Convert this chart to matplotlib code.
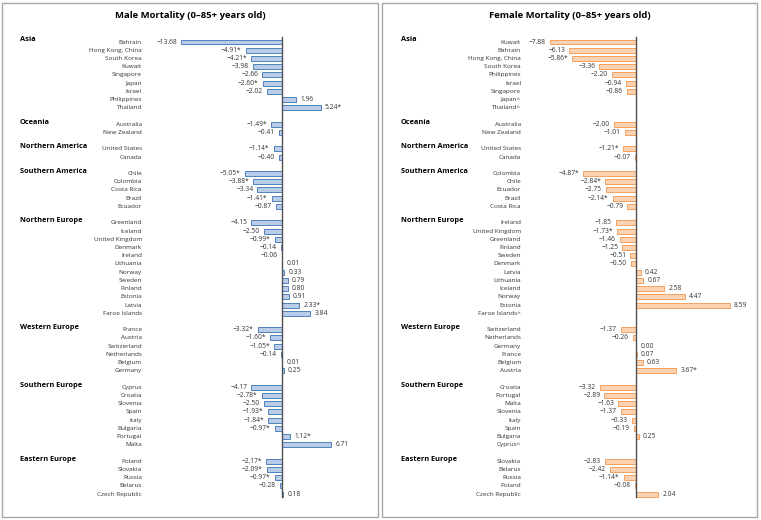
import matplotlib
matplotlib.use('Agg')
import matplotlib.pyplot as plt
from matplotlib.patches import Rectangle
from matplotlib.transforms import blended_transform_factory

plt.rcParams['font.family'] = ['Open Sans', 'DejaVu Sans']

regions = ['Asia', 'Oceania', 'Northern America', 'Southern America',
           'Northern Europe', 'Western Europe', 'Southern Europe', 'Eastern Europe']

# male panel
male_countries = [
    ['Bahrain', 'Hong Kong, China', 'South Korea', 'Kuwait', 'Singapore', 'Japan', 'Israel', 'Philippines', 'Thailand'],
    ['Australia', 'New Zealand'],
    ['United States', 'Canada'],
    ['Chile', 'Colombia', 'Costa Rica', 'Brazil', 'Ecuador'],
    ['Greenland', 'Iceland', 'United Kingdom', 'Denmark', 'Ireland', 'Lithuania', 'Norway', 'Sweden',
     'Finland', 'Estonia', 'Latvia', 'Faroe Islands'],
    ['France', 'Austria', 'Switzerland', 'Netherlands', 'Belgium', 'Germany'],
    ['Cyprus', 'Croatia', 'Slovenia', 'Spain', 'Italy', 'Bulgaria', 'Portugal', 'Malta'],
    ['Poland', 'Slovakia', 'Russia', 'Belarus', 'Czech Republic'],
]
male_values = [
    [-13.68, -4.91, -4.21, -3.98, -2.66, -2.60, -2.02, 1.96, 5.24],
    [-1.49, -0.41],
    [-1.14, -0.40],
    [-5.05, -3.88, -3.34, -1.41, -0.87],
    [-4.15, -2.50, -0.99, -0.14, -0.06, 0.01, 0.33, 0.79, 0.80, 0.91, 2.33, 3.84],
    [-3.32, -1.60, -1.05, -0.14, 0.01, 0.25],
    [-4.17, -2.78, -2.50, -1.93, -1.84, -0.97, 1.12, 6.71],
    [-2.17, -2.09, -0.97, -0.28, 0.18],
]
male_starred = ['Hong Kong, China', 'South Korea', 'Japan', 'Thailand', 'Australia', 'United States',
                'Chile', 'Colombia', 'Brazil', 'United Kingdom', 'Latvia', 'France', 'Austria',
                'Switzerland', 'Croatia', 'Spain', 'Italy', 'Bulgaria', 'Portugal', 'Poland',
                'Slovakia', 'Russia']

# female panel (None = no data, shown with ^)
female_countries = [
    ['Kuwait', 'Bahrain', 'Hong Kong, China', 'South Korea', 'Philippines', 'Israel', 'Singapore', 'Japan', 'Thailand'],
    ['Australia', 'New Zealand'],
    ['United States', 'Canada'],
    ['Colombia', 'Chile', 'Ecuador', 'Brazil', 'Costa Rica'],
    ['Ireland', 'United Kingdom', 'Greenland', 'Finland', 'Sweden', 'Denmark', 'Latvia', 'Lithuania',
     'Iceland', 'Norway', 'Estonia', 'Faroe Islands'],
    ['Switzerland', 'Netherlands', 'Germany', 'France', 'Belgium', 'Austria'],
    ['Croatia', 'Portugal', 'Malta', 'Slovenia', 'Italy', 'Spain', 'Bulgaria', 'Cyprus'],
    ['Slovakia', 'Belarus', 'Russia', 'Poland', 'Czech Republic'],
]
female_values = [
    [-7.88, -6.13, -5.86, -3.36, -2.20, -0.94, -0.86, None, None],
    [-2.00, -1.01],
    [-1.21, -0.07],
    [-4.87, -2.84, -2.75, -2.14, -0.79],
    [-1.85, -1.73, -1.46, -1.25, -0.51, -0.50, 0.42, 0.67, 2.58, 4.47, 8.59, None],
    [-1.37, -0.26, 0.00, 0.07, 0.63, 3.67],
    [-3.32, -2.89, -1.63, -1.37, -0.33, -0.19, 0.25, None],
    [-2.83, -2.42, -1.14, -0.08, 2.04],
]
female_starred = ['Hong Kong, China', 'United States', 'Colombia', 'Chile', 'Brazil',
                  'United Kingdom', 'Austria', 'Russia']

W, H = 761, 520
fig = plt.figure(figsize=(W / 100, H / 100), dpi=100)


def fbox(x0, y0, x1, y1):
    # pixel box (top-left origin) -> figure fraction rect
    return [x0 / W, 1 - y1 / H, (x1 - x0) / W, (y1 - y0) / H]


def draw_panel(title, countries, values, starred, panel_px, ax_px, zero_px, scale, region_x,
               fill, edge):
    px0, px1 = panel_px
    fig.patches.append(Rectangle((px0 / W, 3 / H), (px1 - px0) / W, 514 / H,
                                 transform=fig.transFigure, fill=False,
                                 edgecolor='#a6a6a6', lw=1))
    fig.text((px0 + px1) / 2 / W, 1 - 15 / H, title, ha='center', va='center',
             fontsize=6.8, fontweight='bold')

    ax0, ax1 = ax_px
    row0, step = 42, 8.22
    ax = fig.add_axes(fbox(ax0, 34, ax1, 502))
    ax.set_xlim((ax0 - zero_px) / scale, (ax1 - zero_px) / scale)
    ax.set_ylim((502 - row0) / step, (34 - row0) / step)
    ax.axis('off')

    ypos, labels, vals = [], [], []
    region_rows = []
    row = 0
    for names, v in zip(countries, values):
        region_rows.append(row)
        for n, val in zip(names, v):
            ypos.append(row)
            labels.append(n + ('^' if val is None else ''))
            vals.append(val)
            row += 1
        row += 1

    ax.barh([y for y, v in zip(ypos, vals) if v is not None],
            [v for v in vals if v is not None], height=0.6,
            color=fill, edgecolor=edge, linewidth=0.7, zorder=2)
    ax.plot([0, 0], [-0.6, ypos[-1] + 0.4], color='#505050', lw=1, zorder=3)

    for y, n, v in zip(ypos, labels, vals):
        ax.text(ax.get_xlim()[0] - 8 / scale, y, n, ha='right', va='center',
                fontsize=4.6, color='#333333')
        if v is None:
            continue
        s = f'{v:.2f}'.replace('-', '\u2212')
        if n in starred:
            s += '*'
        off = -3 if v < 0 else 3
        ax.annotate(s, (v, y), xytext=(off, 0), textcoords='offset points',
                    ha='right' if v < 0 else 'left', va='center', fontsize=4.8, color='#333333')

    tr = blended_transform_factory(fig.transFigure, ax.transData)
    for r, name in zip(region_rows, regions):
        fig.text(region_x / W, r - 0.25, name, transform=tr, ha='left', va='center',
                 fontsize=5.3, fontweight='bold')


draw_panel('Male Mortality (0\u201385+ years old)', male_countries, male_values, male_starred,
           (2, 378), (150, 370), 282, 7.35, 20, '#b9cde9', '#4f81bd')
draw_panel('Female Mortality (0\u201385+ years old)', female_countries, female_values, female_starred,
           (382, 757), (529, 752), 636, 10.9, 401, '#fbd3b2', '#f4a15f')

plt.savefig('out.png', dpi=100)
